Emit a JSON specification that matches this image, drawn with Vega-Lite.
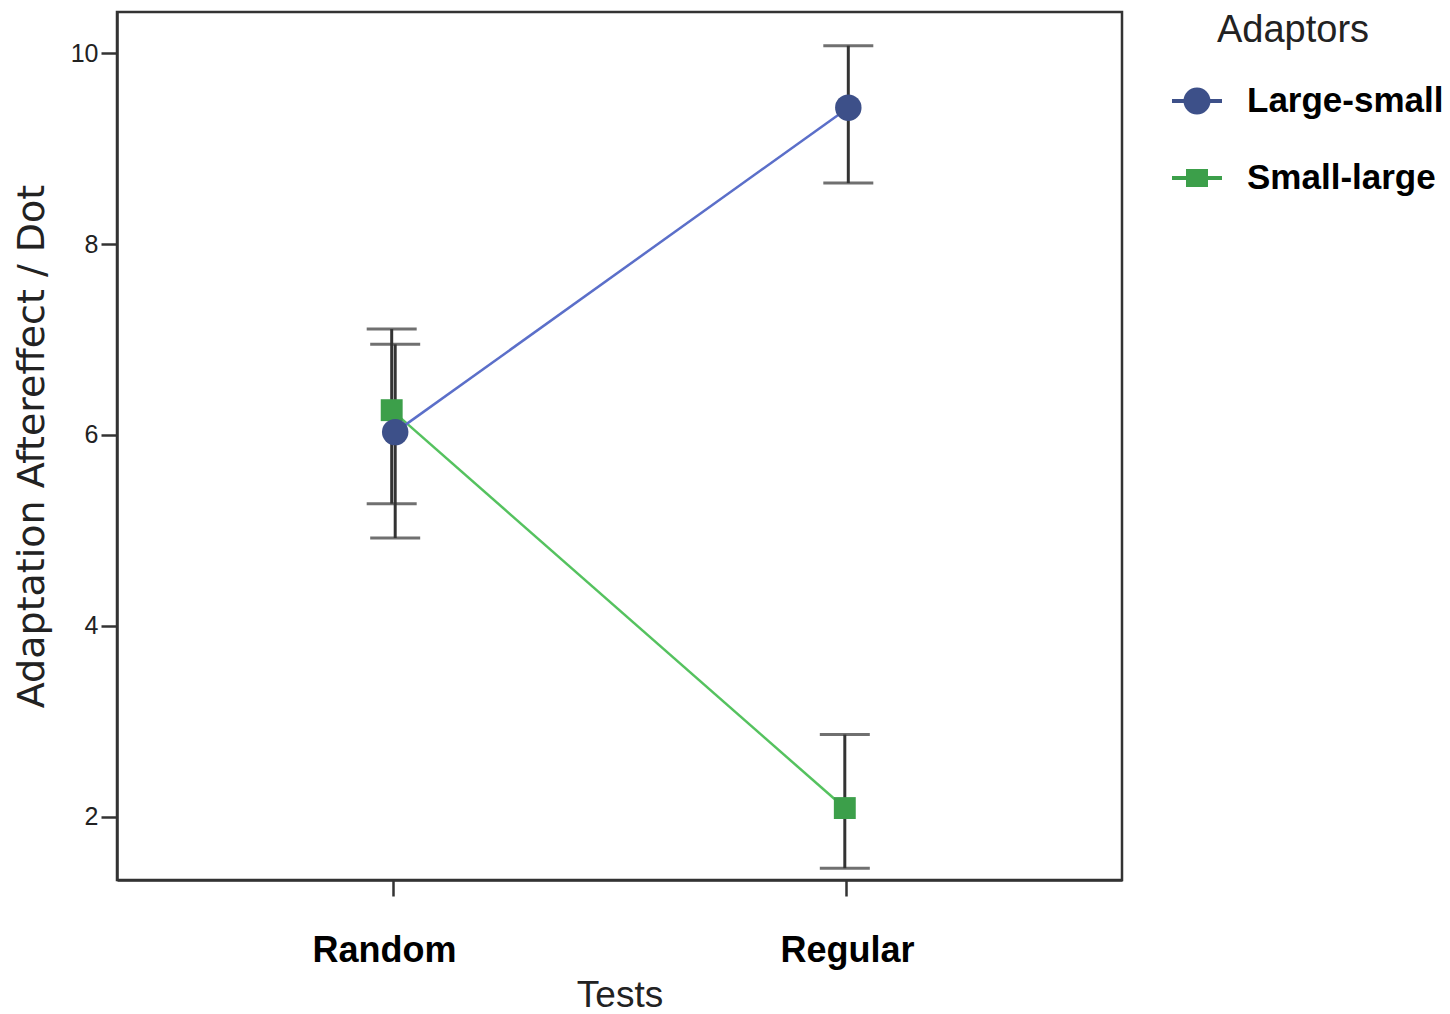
{
  "$schema": "https://vega.github.io/schema/vega-lite/v6.json",
  "width": 1005,
  "height": 868,
  "autosize": {"type": "none"},
  "padding": {"left": 117, "top": 12, "right": 328, "bottom": 134},
  "background": "white",
  "config": {
    "view": {"stroke": "#333333", "strokeWidth": 2.5},
    "font": "Liberation Sans"
  },
  "data": {
    "values": [
      {"Tests": "Random", "Adaptors": "Small-large", "mean": 6.26, "lower": 5.28, "upper": 7.11},
      {"Tests": "Regular", "Adaptors": "Small-large", "mean": 2.09, "lower": 1.46, "upper": 2.86},
      {"Tests": "Random", "Adaptors": "Large-small", "mean": 6.03, "lower": 4.92, "upper": 6.95},
      {"Tests": "Regular", "Adaptors": "Large-small", "mean": 9.43, "lower": 8.64, "upper": 10.08}
    ]
  },
  "encoding": {
    "x": {
      "field": "Tests",
      "type": "ordinal",
      "scale": {"type": "point", "padding": 0.609, "domain": ["Random", "Regular"]},
      "axis": {
        "title": "Tests",
        "titleFontSize": 37,
        "titleFontWeight": "normal",
        "titleColor": "#222222",
        "titlePadding": 9,
        "labelFontSize": 36,
        "labelFontWeight": "bold",
        "labelColor": "#000000",
        "labelAngle": 0,
        "labelPadding": 37,
        "labelOffset": {"condition": {"test": "datum.value === 'Random'", "value": -9}, "value": 1},
        "tickSize": 16,
        "tickWidth": 2.5,
        "tickColor": "#333333",
        "domainColor": "#333333",
        "domainWidth": 2.5
      }
    },
    "xOffset": {
      "field": "Adaptors",
      "type": "nominal",
      "scale": {"domain": ["Large-small", "Small-large"], "range": [4, -3]}
    }
  },
  "layer": [
    {
      "mark": {"type": "rule", "color": "#333333", "strokeWidth": 3},
      "encoding": {
        "y": {
          "field": "lower",
          "type": "quantitative",
          "title": "Adaptation Aftereffect / Dot",
          "scale": {"domain": [1.336, 10.433], "nice": false, "zero": false},
          "axis": {
            "values": [2, 4, 6, 8, 10],
            "format": "d",
            "grid": false,
            "titleFont": "DejaVu Sans",
            "titleFontSize": 38,
            "titleFontWeight": "normal",
            "titleColor": "#222222",
            "titlePadding": 19,
            "labelFontSize": 25,
            "labelColor": "#222222",
            "labelPadding": 3,
            "tickSize": 16,
            "tickWidth": 2.5,
            "tickColor": "#333333",
            "domainColor": "#333333",
            "domainWidth": 2.5
          }
        },
        "y2": {"field": "upper"}
      }
    },
    {
      "mark": {"type": "tick", "color": "#333333", "size": 50, "thickness": 3},
      "encoding": {
        "y": {"field": "lower", "type": "quantitative", "title": "Adaptation Aftereffect / Dot"}
      }
    },
    {
      "mark": {"type": "tick", "color": "#333333", "size": 50, "thickness": 3},
      "encoding": {
        "y": {"field": "upper", "type": "quantitative", "title": "Adaptation Aftereffect / Dot"}
      }
    },
    {
      "mark": {"type": "line", "strokeWidth": 2.5},
      "encoding": {
        "y": {"field": "mean", "type": "quantitative", "title": "Adaptation Aftereffect / Dot"},
        "stroke": {
          "field": "Adaptors",
          "type": "nominal",
          "scale": {"domain": ["Small-large", "Large-small"], "range": ["#55c25f", "#5b6fc9"]},
          "legend": null
        },
        "detail": {"field": "Adaptors"}
      }
    },
    {
      "mark": {"type": "point", "filled": true, "opacity": 1, "strokeWidth": 0},
      "encoding": {
        "y": {"field": "mean", "type": "quantitative", "title": "Adaptation Aftereffect / Dot"},
        "color": {
          "field": "Adaptors",
          "type": "nominal",
          "scale": {"domain": ["Large-small", "Small-large"], "range": ["#3d5089", "#3c9f4a"]},
          "legend": {
            "title": "Adaptors",
            "orient": "none",
            "legendX": 1055,
            "legendY": 0,
            "titleFontSize": 38,
            "titleFontWeight": "normal",
            "titleColor": "#222222",
            "titleAnchor": "middle",
            "titlePadding": 26,
            "labelFontSize": 35,
            "labelFontWeight": "bold",
            "labelColor": "#000000",
            "labelOffset": 25,
            "labelLimit": 0,
            "symbolSize": 2500,
            "symbolStrokeWidth": 0,
            "symbolOpacity": 1,
            "rowPadding": 34,
            "padding": 0,
            "encode": {
              "title": {
                "update": {"dx": {"value": -15}}
              },
              "symbols": {
                "update": {
                  "shape": {
                    "signal": "datum.value === 'Large-small' ? 'M-1,-0.08H-0.51V0.08H-1ZM0.51,-0.08H1V0.08H0.51ZM0.54,0A0.54,0.54,0,1,1,-0.54,0A0.54,0.54,0,1,1,0.54,0Z' : 'M-1,-0.08H-0.44V0.08H-1ZM0.44,-0.08H1V0.08H0.44ZM-0.44,-0.36H0.44V0.36H-0.44Z'"
                  }
                }
              }
            }
          }
        },
        "shape": {
          "field": "Adaptors",
          "type": "nominal",
          "scale": {"domain": ["Small-large", "Large-small"], "range": ["square", "circle"]},
          "legend": null
        },
        "size": {
          "field": "Adaptors",
          "type": "nominal",
          "scale": {"domain": ["Small-large", "Large-small"], "range": [480, 700]},
          "legend": null
        }
      }
    }
  ]
}
